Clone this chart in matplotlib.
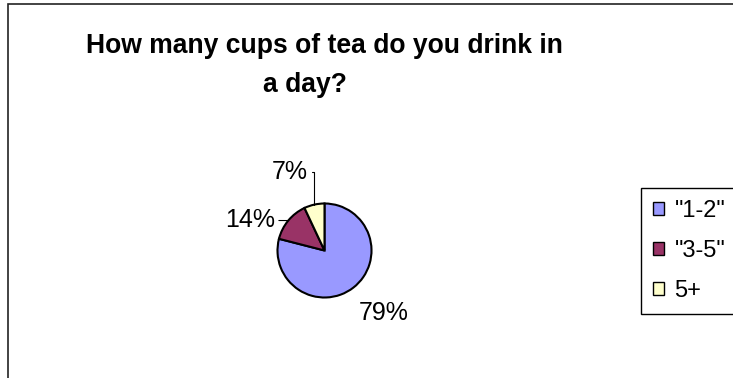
import numpy as np
import matplotlib.pyplot as plt
import matplotlib.patches as mpatches

plt.rcParams['font.family'] = ['Liberation Sans', 'DejaVu Sans']

# DATOS
categorias = ['"1-2"', '"3-5"', '5+']
porcentajes = [79, 14, 7]
colores = ['#9999FF', '#993366', '#FFFFCC']

# posiciones de las etiquetas (coordenadas del eje, radio = 1)
pos_etiquetas = [(1.26, -1.34), (-1.06, 0.64), (-0.36, 1.68)]
alin_etiquetas = ['center', 'right', 'right']

# FIGURA
W, H = 733, 378
fig = plt.figure(figsize=(W / 100, H / 100), dpi=100)

# marco exterior del grafico (recortado por la derecha y abajo)
marco = mpatches.Rectangle((8 / W, -0.2), 2, 1 - 4 / H + 0.2,
                           transform=fig.transFigure, fill=False,
                           edgecolor='#222222', lw=1.2)
fig.patches.append(marco)

# titulo
fig.text(324 / W, 1 - 53 / H, 'How many cups of tea do you drink in',
         ha='center', va='baseline', fontsize=19.1, fontweight='bold')
fig.text(305 / W, 1 - 92 / H, 'a day?',
         ha='center', va='baseline', fontsize=19.1, fontweight='bold')

# PASTEL
cx, cy, r = 324.5, 250.5, 47
ax = fig.add_axes([(cx - r) / W, 1 - (cy + r) / H, 2 * r / W, 2 * r / H])
cunas, _ = ax.pie(porcentajes, colors=colores, startangle=90, counterclock=False,
                  wedgeprops=dict(edgecolor='black', linewidth=1.5))
ax.set_xlim(-1, 1)
ax.set_ylim(-1, 1)
ax.set_aspect('equal')

for cuna, p, pos, ha in zip(cunas, porcentajes, pos_etiquetas, alin_etiquetas):
    ang = np.deg2rad((cuna.theta1 + cuna.theta2) / 2)
    borde = (np.cos(ang), np.sin(ang))
    texto = f'{p}%'
    if ha == 'center':
        ax.text(pos[0], pos[1], texto, ha='center', va='center', fontsize=18)
    elif p == 7:
        ax.annotate(texto, xy=borde, xytext=pos, ha='right', va='center',
                    fontsize=18,
                    arrowprops=dict(arrowstyle='-', color='black', lw=0.8,
                                    shrinkA=1, shrinkB=0,
                                    connectionstyle='angle,angleA=0,angleB=90,rad=0'))
    else:
        ax.annotate(texto, xy=borde, xytext=pos, ha='right', va='center',
                    fontsize=18,
                    arrowprops=dict(arrowstyle='-', color='black', lw=0.8,
                                    shrinkA=1, shrinkB=0))

# LEYENDA
leg = fig.legend(cunas, categorias, loc='upper left',
                 bbox_to_anchor=(641 / W, 1 - 188 / H),
                 bbox_transform=fig.transFigure, borderaxespad=0,
                 fontsize=17, frameon=True, fancybox=False, framealpha=1,
                 edgecolor='black', handlelength=0.47, handleheight=0.47,
                 handletextpad=0.45, borderpad=0.5, labelspacing=0.77)
leg.get_frame().set_linewidth(1.0)
for h in leg.legend_handles:
    h.set_linewidth(1.0)

fig.savefig('out.png', dpi=100)
